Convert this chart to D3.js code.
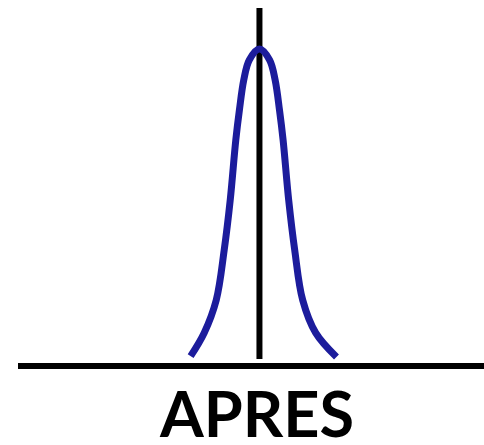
<!DOCTYPE html>
<html>
<head>
<meta charset="utf-8">
<style>
  html, body { margin: 0; padding: 0; background: #fff; }
</style>
</head>
<body>
<div id="container"></div>

<script src="https://d3js.org/d3.v7.min.js"></script>

<script>
  const W = 484, H = 445;

  // curve points: x in sigma units, y as share of the peak
  const curveX = [-2.85, -2.29, -1.79, -1.46, -1.21, -0.98, -0.83, -0.65, -0.42, 0,
                  0.42, 0.65, 0.83, 0.98, 1.21, 1.46, 1.79, 2.33, 3.19];
  const curveY = [0.019, 0.093, 0.198, 0.358, 0.518, 0.709, 0.805, 0.901, 0.965, 1,
                  0.965, 0.901, 0.805, 0.709, 0.518, 0.358, 0.198, 0.093, 0.016];
  const label = "APRES";

  const points = curveX.map((v, i) => ({ x: v, y: curveY[i] }));

  const x = d3.scaleLinear()
    .domain([-10, 9.3])      // axis runs from x=18 to the right edge
    .range([18, W]);

  const y = d3.scaleLinear()
    .domain([0, 1])
    .range([362, 49]);       // baseline up to the peak

  const svg = d3.select("#container")
    .append("svg")
    .attr("width", W)
    .attr("height", H);

  // horizontal axis
  svg.append("line")
    .attr("x1", x(-10)).attr("x2", x(9.3))
    .attr("y1", 366).attr("y2", 366)
    .attr("stroke", "#000")
    .attr("stroke-width", 6);

  // vertical line at the mean
  svg.append("line")
    .attr("x1", x(0)).attr("x2", x(0))
    .attr("y1", 8).attr("y2", 359)
    .attr("stroke", "#000")
    .attr("stroke-width", 6);

  const line = d3.line()
    .x(d => x(d.x))
    .y(d => y(d.y))
    .curve(d3.curveCatmullRom.alpha(0.5));

  svg.append("path")
    .datum(points)
    .attr("d", line)
    .attr("fill", "none")
    .attr("stroke", "#1c1c9c")
    .attr("stroke-width", 7);

  svg.append("text")
    .attr("x", 257)
    .attr("y", 437)
    .attr("text-anchor", "middle")
    .attr("font-family", "Lato, 'Open Sans', sans-serif")
    .attr("font-weight", "bold")
    .attr("font-size", 63)
    .attr("fill", "#000")
    .text(label);
</script>
</body>
</html>
